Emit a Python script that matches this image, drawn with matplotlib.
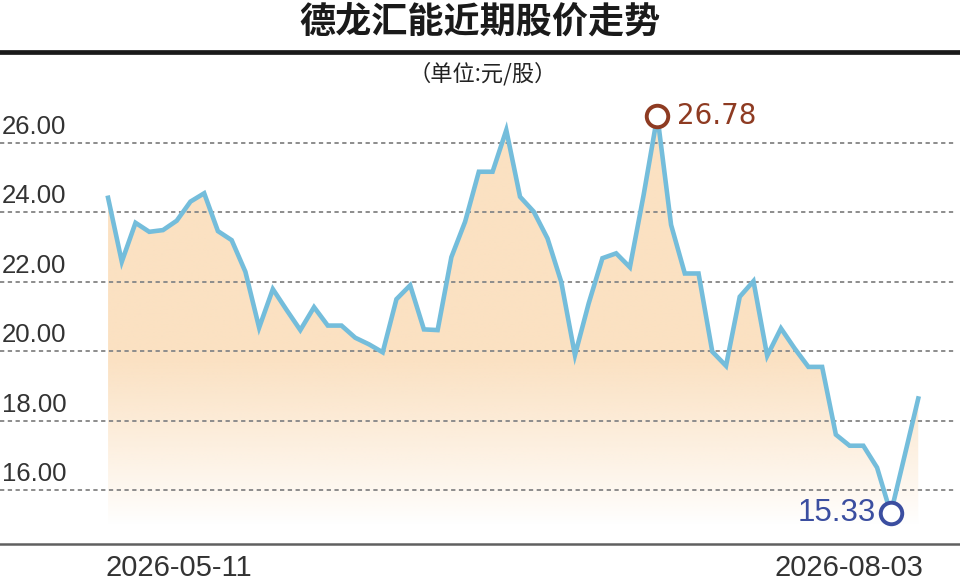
import numpy as np
import matplotlib
matplotlib.use("Agg")
import matplotlib.pyplot as plt
from matplotlib.patches import Polygon
from matplotlib.lines import Line2D
import matplotlib.transforms as mtransforms

plt.rcParams['font.family'] = ['Noto Sans CJK SC', 'DejaVu Sans']

## data (60 trading days, 2026-05-11 .. 2026-08-03)
prices = [24.42, 22.58, 23.70, 23.44, 23.49, 23.76, 24.31, 24.55, 23.46, 23.20,
          22.29, 20.68, 21.79, 21.19, 20.61, 21.27, 20.74, 20.74, 20.39, 20.20,
          19.97, 21.50, 21.90, 20.63, 20.61, 22.71, 23.73, 25.17, 25.17, 26.37,
          24.45, 24.02, 23.25, 22.00, 19.89, 21.38, 22.68, 22.82, 22.42, 24.50,
          26.78, 23.64, 22.24, 22.24, 19.99, 19.58, 21.57, 22.02, 19.87, 20.66,
          20.08, 19.55, 19.55, 17.60, 17.28, 17.28, 16.65, 15.33, 16.98, 18.64]
date_labels = ['2026-05-11', '2026-08-03']
y_ticks = [16, 18, 20, 22, 24, 26]
title = '德龙汇能近期股价走势'
unit = '（单位:元/股）'

line_col = '#74bddb'
fill_col = np.array([251, 225, 194]) / 255
max_col = '#8e3b22'
min_col = '#3b4ea0'

x = np.arange(len(prices))
y = np.array(prices)
i_max = int(np.argmax(y))
i_min = int(np.argmin(y))

fig = plt.figure(figsize=(9.6, 5.85), dpi=100)
ax = fig.add_axes([0, 0.0701, 1, 0.7675])

xlim = (-7.87, 62.04)
ylim = (14.45, 27.38)

# gradient fill under the line
base = 15.0
patch = Polygon(np.vstack([np.column_stack([x, y]), [[x[-1], base], [x[0], base]]]),
                closed=True, facecolor='none', edgecolor='none', transform=ax.transData)
ax.add_patch(patch)
vv = np.linspace(base, y.max(), 300)
alpha = np.clip((vv - base) / (19.8 - base), 0, 1) ** 0.9
grad = np.zeros((len(vv), 2, 4))
grad[:, :, :3] = fill_col
grad[:, :, 3] = alpha[:, None]
im = ax.imshow(grad, extent=[x[0], x[-1], base, y.max()], origin='lower',
               aspect='auto', zorder=1, interpolation='bilinear')
im.set_clip_path(patch)

# dashed grid lines + labels
for t in y_ticks:
    ax.axhline(t, xmin=0, xmax=955 / 960, color='#8c8c8c', lw=1.4,
               dashes=(2.2, 1.8), zorder=2)
    ax.annotate('%.2f' % t, xy=(0.002, t), xycoords=('axes fraction', 'data'),
                xytext=(0, 3), textcoords='offset points', ha='left', va='bottom',
                fontsize=18.5, color='#333333', family=['Liberation Sans', 'DejaVu Sans'])

ax.plot(x, y, color=line_col, lw=3.3, solid_joinstyle='miter', zorder=3)

# max / min markers
ax.plot(x[i_max], y[i_max], 'o', ms=15.5, mfc='white', mec=max_col, mew=2.8, zorder=4)
ax.plot(x[i_min], y[i_min], 'o', ms=15.5, mfc='white', mec=min_col, mew=2.8, zorder=4)
ax.annotate('%.2f' % y[i_max], xy=(x[i_max], y[i_max]), xytext=(14, 0),
            textcoords='offset points', ha='left', va='center', fontsize=20,
            color=max_col, family=['DejaVu Sans'])
ax.annotate('%.2f' % y[i_min], xy=(x[i_min], y[i_min]), xytext=(-11, 0),
            textcoords='offset points', ha='right', va='center', fontsize=22.5,
            color=min_col, family=['Liberation Sans', 'DejaVu Sans'])

ax.set_xlim(*xlim)
ax.set_ylim(*ylim)
ax.set_xticks([])
ax.set_yticks([])
for s in ['top', 'left', 'right']:
    ax.spines[s].set_visible(False)
ax.spines['bottom'].set_color('#606060')
ax.spines['bottom'].set_linewidth(1.8)

# date labels under the axis
trans = mtransforms.blended_transform_factory(ax.transData, fig.transFigure)
ax.text(x[0] - 0.2, 1 - 568 / 585, date_labels[0], transform=trans, ha='left',
        va='center', fontsize=21, color='#333333', family=['Liberation Sans', 'DejaVu Sans'])
ax.text(x[-1] + 0.4, 1 - 568 / 585, date_labels[1], transform=trans, ha='right',
        va='center', fontsize=21, color='#333333', family=['Liberation Sans', 'DejaVu Sans'])

# title, rule and unit
fig.text(0.5, 1 - 22 / 585, title, ha='center', va='center', fontsize=26,
         fontweight='bold', color='#1a1a1a')
fig.add_artist(Line2D([0, 1], [1 - 52 / 585, 1 - 52 / 585], color='#1a1a1a',
                      lw=3.4, transform=fig.transFigure))
fig.text(0.503, 1 - 74 / 585, unit, ha='center', va='center', fontsize=16,
         color='#222222')

fig.savefig('out.png', dpi=100)
